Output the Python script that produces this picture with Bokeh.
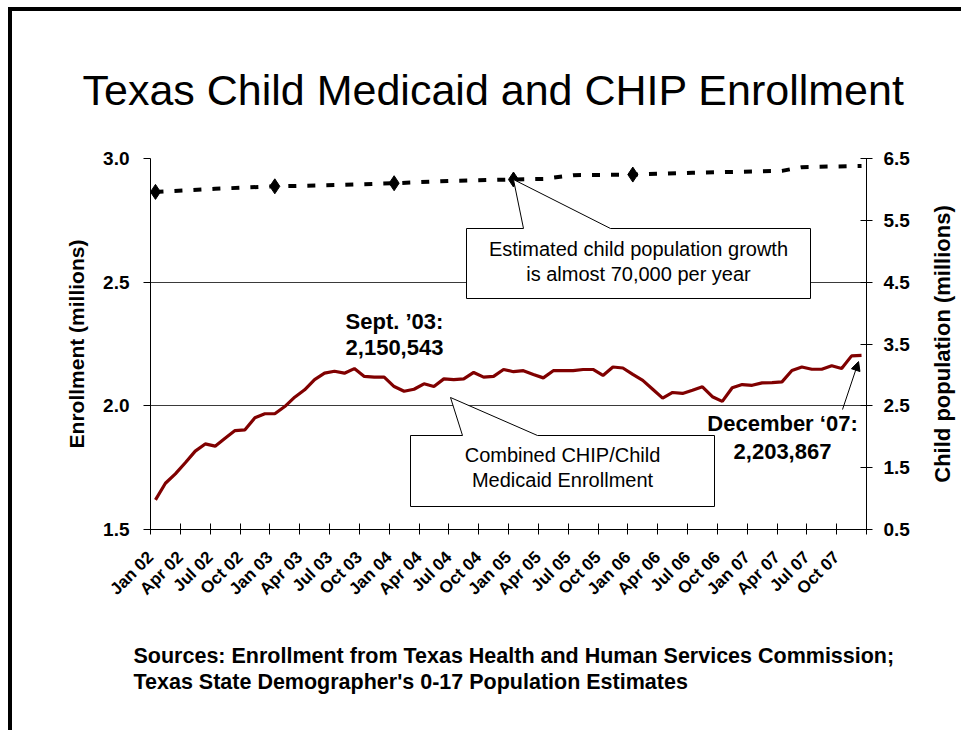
import numpy as np
from bokeh.plotting import figure
from bokeh.layouts import column, row
from bokeh.models import (Range1d, LinearAxis, FixedTicker, Label, Arrow, NormalHead, Title, Div,
                          PrintfTickFormatter)
from bokeh.embed import file_html
from bokeh.resources import INLINE

# ---------------- data ----------------
tick_labels = ["Jan 02", "Apr 02", "Jul 02", "Oct 02", "Jan 03", "Apr 03", "Jul 03", "Oct 03",
               "Jan 04", "Apr 04", "Jul 04", "Oct 04", "Jan 05", "Apr 05", "Jul 05", "Oct 05",
               "Jan 06", "Apr 06", "Jul 06", "Oct 06", "Jan 07", "Apr 07", "Jul 07", "Oct 07"]

# monthly combined CHIP / child Medicaid enrollment, Jan 2002 .. Dec 2007 (millions)
enrollment = [1.620, 1.687, 1.725, 1.770, 1.817, 1.846, 1.837, 1.869, 1.900, 1.903, 1.952, 1.968,
              1.968, 1.997, 2.035, 2.065, 2.106, 2.132, 2.140, 2.132, 2.1505, 2.119, 2.116, 2.116,
              2.078, 2.059, 2.067, 2.089, 2.078, 2.109, 2.106, 2.109, 2.135, 2.116, 2.119, 2.147,
              2.138, 2.142, 2.127, 2.113, 2.142, 2.142, 2.142, 2.147, 2.147, 2.123, 2.157, 2.153,
              2.127, 2.103, 2.067, 2.031, 2.054, 2.050, 2.063, 2.077, 2.037, 2.018, 2.073, 2.086,
              2.083, 2.093, 2.094, 2.097, 2.143, 2.157, 2.148, 2.148, 2.162, 2.151, 2.202, 2.2039]

# estimated child population (millions), month index from Jan 2002
pop_month = [0, 6, 12, 18, 24, 30, 36, 39, 42, 48, 54, 60, 63, 65, 71]
population = [5.96, 6.01, 6.05, 6.07, 6.10, 6.14, 6.16, 6.17, 6.23, 6.24, 6.27, 6.29, 6.30, 6.36, 6.38]
pop_marker_month = [0, 12, 24, 36, 48]

n_months = len(enrollment)

# ---------------- layout geometry ----------------
W, H = 961, 729
W1 = 925
FL, FR, FT, FB = 150, 866, 158, 529
X0, X1 = 0, n_months
Y0, Y1 = 1.5, 3.0
R0, R1 = 0.5, 6.5
FONT = "Liberation Sans"


def dx(px):
    return X0 + (px - FL) * (X1 - X0) / (FR - FL)


def dy(py):
    return Y0 + (FB - py) * (Y1 - Y0) / (FB - FT)


def r2l(r):
    return Y0 + (r - R0) * (Y1 - Y0) / (R1 - R0)


p = figure(width=W1, height=H, x_range=Range1d(X0, X1), y_range=Range1d(Y0, Y1),
           output_backend="svg", toolbar_location=None,
           min_border_left=FL, min_border_right=W1 - FR, min_border_top=FT,
           min_border_bottom=H - FB)
p.outline_line_color = None
p.background_fill_color = "white"
p.border_fill_color = "white"

p.title = Title(text="Texas Child Medicaid and CHIP Enrollment", align="left", offset=-68,
                vertical_align="top", standoff=85, text_font=FONT, text_font_size="43px",
                text_font_style="normal", text_color="black")

# left axis
ya = p.yaxis[0]
ya.ticker = FixedTicker(ticks=[1.5, 2.0, 2.5, 3.0])
ya.formatter = PrintfTickFormatter(format="%.1f")
ya.axis_label = "Enrollment (millions)"
ya.axis_label_text_font = FONT
ya.axis_label_text_font_style = "bold"
ya.axis_label_text_font_size = "21px"
ya.axis_label_text_color = "black"
ya.axis_label_standoff = 12
ya.major_label_text_font = FONT
ya.major_label_text_font_style = "bold"
ya.major_label_text_font_size = "19px"
ya.major_label_text_color = "black"
ya.major_label_standoff = 14
ya.major_tick_out = 7
ya.major_tick_in = 0
ya.minor_tick_out = 0
ya.minor_tick_in = 0
ya.axis_line_color = "black"
ya.major_tick_line_color = "black"

# right axis (ticks and values)
p.extra_y_ranges = {"pop": Range1d(R0, R1)}
ra = LinearAxis(y_range_name="pop")
ra.ticker = FixedTicker(ticks=[0.5, 1.5, 2.5, 3.5, 4.5, 5.5, 6.5])
ra.formatter = PrintfTickFormatter(format="%.1f")
ra.major_label_text_font = FONT
ra.major_label_text_font_style = "bold"
ra.major_label_text_font_size = "19px"
ra.major_label_text_color = "black"
ra.major_label_standoff = 11
ra.major_tick_out = 6
ra.major_tick_in = 6
ra.minor_tick_out = 0
ra.minor_tick_in = 0
ra.axis_line_color = "black"
ra.major_tick_line_color = "black"
p.add_layout(ra, "right")

# x axis
xa = p.xaxis[0]
xticks = list(range(0, n_months + 1, 3))
xa.ticker = FixedTicker(ticks=xticks)
over = {t: "" for t in xticks}
for t, lab in zip(xticks, tick_labels):
    over[t] = lab
xa.major_label_overrides = over
xa.major_label_orientation = np.pi / 4
xa.major_label_text_font = FONT
xa.major_label_text_font_style = "bold"
xa.major_label_text_font_size = "17px"
xa.major_label_text_color = "black"
xa.major_label_standoff = 20
xa.major_tick_in = 6
xa.major_tick_out = 5
xa.minor_tick_in = 0
xa.minor_tick_out = 0
xa.axis_line_color = "black"
xa.major_tick_line_color = "black"

p.xgrid.visible = False
p.ygrid.ticker = FixedTicker(ticks=[2.0, 2.5, 3.0])
p.ygrid.grid_line_color = "#3a3a3a"
p.ygrid.grid_line_width = 1

# sources below the x axis
src = Title(text="Sources: Enrollment from Texas Health and Human Services Commission;\n"
                 "Texas State Demographer's 0-17 Population Estimates",
            align="left", offset=-17, vertical_align="bottom", standoff=66, text_font=FONT,
            text_font_size="21.5px", text_font_style="bold", text_color="black",
            text_line_height=1.12)
p.add_layout(src, "below")

# ---------------- series ----------------
xs = [i + 0.5 for i in range(n_months)]
p.line(xs, enrollment, line_color="#800000", line_width=3.2)

pop_x = [m + 0.5 for m in pop_month]
p.line(pop_x, population, y_range_name="pop", line_color="black", line_width=4, line_dash="8 11")
mk_x = [m + 0.5 for m in pop_marker_month]
mk_y = [population[pop_month.index(m)] for m in pop_marker_month]
p.scatter(mk_x, mk_y, y_range_name="pop", marker="diamond", size=15, fill_color="black",
          line_color="black")

# ---------------- callouts ----------------
tip_x = pop_marker_month[3] + 0.5
tip_y = r2l(population[pop_month.index(pop_marker_month[3])])
bl, br, bt, bb = dx(466), dx(810), dy(228), dy(298)
p.patch([bl, bl, dx(523), tip_x, dx(610), br, br],
        [bb, bt, bt, tip_y, bt, bt, bb],
        fill_color="white", line_color="black", line_width=1)
for txt, py in [("Estimated child population growth", 248), ("is almost 70,000 per year", 273)]:
    p.add_layout(Label(x=(bl + br) / 2, y=dy(py), text=txt, text_align="center",
                       text_baseline="middle", text_font=FONT, text_font_size="20px",
                       text_color="black"))

bl, br, bt, bb = dx(410), dx(714), dy(435), dy(506)
p.patch([bl, bl, dx(462), dx(450), dx(537), br, br],
        [bb, bt, bt, dy(397), bt, bt, bb],
        fill_color="white", line_color="black", line_width=1)
for txt, py in [("Combined CHIP/Child", 454), ("Medicaid Enrollment", 479)]:
    p.add_layout(Label(x=(bl + br) / 2, y=dy(py), text=txt, text_align="center",
                       text_baseline="middle", text_font=FONT, text_font_size="20px",
                       text_color="black"))

for txt, px, py in [("Sept. \u201903:", 394, 321), ("2,150,543", 394, 347),
                    ("December \u201807:", 782, 423), ("2,203,867", 782, 451)]:
    p.add_layout(Label(x=dx(px), y=dy(py), text=txt, text_align="center",
                       text_baseline="middle", text_font=FONT, text_font_size="22px",
                       text_font_style="bold", text_color="black"))

p.add_layout(Arrow(end=NormalHead(size=9, fill_color="black", line_color="black"),
                   x_start=dx(842), y_start=dy(409), x_end=xs[-1] - 0.3, y_end=enrollment[-1] - 0.025,
                   line_color="black", line_width=1))

# ---------------- right-hand axis title (reads bottom to top) ----------------
p2 = figure(width=W - W1, height=H, x_range=Range1d(0, 1), y_range=Range1d(R0, R1),
            output_backend="svg", toolbar_location=None,
            min_border_left=30, min_border_right=5, min_border_top=FT, min_border_bottom=H - FB)
p2.outline_line_color = None
p2.background_fill_color = "white"
p2.border_fill_color = "white"
p2.xaxis.visible = False
p2.xgrid.visible = False
p2.ygrid.visible = False
ax2 = p2.yaxis[0]
ax2.ticker = FixedTicker(ticks=[])
ax2.axis_line_color = None
ax2.major_tick_line_color = None
ax2.major_tick_out = 0
ax2.major_tick_in = 0
ax2.minor_tick_out = 0
ax2.minor_tick_in = 0
ax2.major_label_text_font_size = "0px"
ax2.major_label_standoff = 0
ax2.axis_label = "Child population (millions)"
ax2.axis_label_text_font = FONT
ax2.axis_label_text_font_style = "bold"
ax2.axis_label_text_font_size = "22px"
ax2.axis_label_text_color = "black"
ax2.axis_label_standoff = 1

# ---------------- slide frame ----------------
frame = Div(text='<div style="position:fixed;left:8px;top:7px;width:980px;height:760px;'
                 'border-top:4px solid black;border-left:4px solid black;'
                 'pointer-events:none;"></div>',
            width=W, height=1)

layout = column(row(p, p2), frame)
open("out.html", "w").write(file_html(layout, INLINE))
